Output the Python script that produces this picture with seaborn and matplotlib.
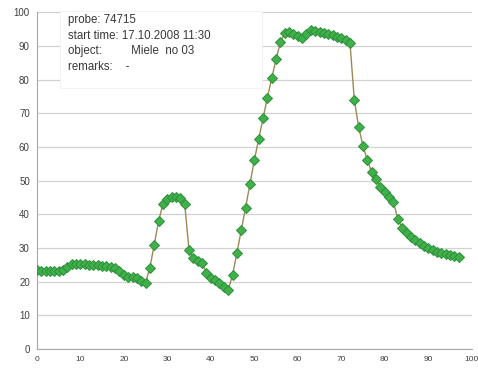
import pandas as pd
import matplotlib
matplotlib.use('Agg')
import matplotlib.pyplot as plt
import seaborn as sns

# Messwerte (Minuten, Temperatur)
minutes = list(range(0, 98))
temperature = [
    23.5, 23.3, 23.2, 23.2, 23.1, 23.1, 23.4, 24.4, 25.2, 25.4,
    25.3, 25.2, 25.1, 25.0, 25.0, 24.8, 24.8, 24.5, 24.0, 23.3,
    22.0, 21.5, 21.3, 21.0, 20.3, 19.6, 24.2, 31.0, 38.0, 43.0,
    44.6, 45.0, 45.0, 44.8, 43.0, 29.4, 27.0, 26.0, 25.5, 22.5,
    21.0, 20.4, 19.6, 18.3, 17.5, 22.0, 28.5, 35.3, 42.0, 49.0,
    56.0, 62.3, 68.5, 74.5, 80.4, 86.0, 91.0, 93.8, 94.0, 93.5,
    93.0, 92.4, 93.6, 94.6, 94.5, 94.2, 93.9, 93.6, 93.2, 92.7,
    92.2, 91.6, 90.8, 73.9, 65.9, 60.2, 56.0, 52.5, 50.5, 48.0,
    46.5, 45.0, 43.6, 38.6, 36.0, 34.4, 33.3, 32.3, 31.5, 30.7,
    30.0, 29.3, 28.8, 28.4, 28.1, 27.9, 27.6, 27.3,
]
info_lines = ['probe: 74715', 'start time: 17.10.2008 11:30',
              'object:         Miele  no 03', 'remarks:    -']

df = pd.DataFrame({'t': minutes, 'temp': temperature})

sns.set_style('white')
plt.rcParams['font.family'] = ['Liberation Sans', 'DejaVu Sans']
fig = plt.figure(figsize=(4.78, 3.69), dpi=100)
ax = fig.add_axes([0.077, 0.054, 0.91, 0.913])

sns.lineplot(data=df, x='t', y='temp', ax=ax, color='#9a8a55', linewidth=1.0,
             marker='D', markersize=5, markerfacecolor='#3fb04a',
             markeredgecolor='#2e8f3a', markeredgewidth=0.7, zorder=3)

ax.set_xlim(0, 100)
ax.set_ylim(0, 100)
ax.set_xticks(range(0, 101, 10))
ax.set_yticks(range(0, 101, 10))
ax.yaxis.grid(True, color='#d2d2d2', linewidth=0.9)
ax.set_xlabel('')
ax.set_ylabel('')
for s in ['top', 'right']:
    ax.spines[s].set_visible(False)
for s in ['left', 'bottom']:
    ax.spines[s].set_color('#a8a8a8')
    ax.spines[s].set_linewidth(0.8)
ax.tick_params(axis='both', length=3, width=0.8, color='#a8a8a8', colors='#404040', pad=2)
ax.tick_params(axis='x', labelsize=6)
ax.tick_params(axis='y', labelsize=7)

# Infobox oben links
box = plt.Rectangle((5.3, 77.5), 46.5, 22.8, transform=ax.transData, facecolor='white',
                    edgecolor='#f0f0f0', linewidth=0.6, zorder=2, clip_on=False)
ax.add_patch(box)
for i, line in enumerate(info_lines):
    ax.text(7.2, 97.6 - i * 4.6, line, fontsize=8.3, color='#383838',
            va='center', ha='left', zorder=4)

fig.savefig('out.png', dpi=100)
